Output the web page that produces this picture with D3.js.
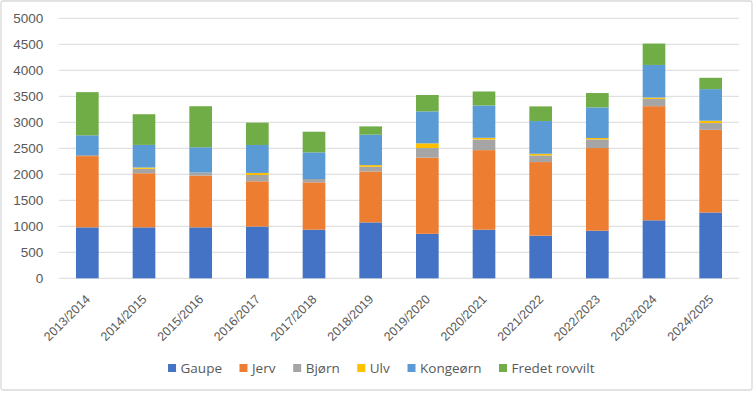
<!DOCTYPE html>
<html>
<head>
<meta charset="utf-8">
<script src="https://cdn.jsdelivr.net/npm/d3@7"></script>
<style>
  html, body { margin: 0; padding: 0; background: #fff; }
  svg { display: block; font-family: 'Open Sans', 'Noto Sans', sans-serif; }
  .tick-text { fill: #595959; }
</style>
</head>
<body>
<div id="chart"></div>
<script>
const seasons = ['2013/2014', '2014/2015', '2015/2016', '2016/2017', '2017/2018', '2018/2019',
  '2019/2020', '2020/2021', '2021/2022', '2022/2023', '2023/2024', '2024/2025'];
const gaupe = [980, 980, 980, 995, 935, 1075, 855, 935, 820, 915, 1115, 1265];
const jerv = [1370, 1040, 995, 870, 910, 980, 1465, 1530, 1415, 1590, 2195, 1590];
const bjorn = [20, 85, 58, 122, 64, 90, 185, 205, 128, 167, 140, 130];
const ulv = [0, 25, 0, 39, 0, 32, 90, 32, 32, 26, 25, 45];
const kongeorn = [380, 435, 487, 538, 513, 584, 615, 622, 629, 589, 628, 608];
const fredet = [830, 590, 789, 429, 397, 160, 315, 269, 282, 276, 411, 218];
const seriesNames = ['Gaupe', 'Jerv', 'Bjørn', 'Ulv', 'Kongeørn', 'Fredet rovvilt'];
const yTicks = [0, 500, 1000, 1500, 2000, 2500, 3000, 3500, 4000, 4500, 5000];

const colors = ['#4472C4', '#ED7D31', '#A5A5A5', '#FFC000', '#5B9BD5', '#70AD47'];
const W = 756, H = 393;
const margin = { top: 18.3, right: 17, bottom: 114.7, left: 59 };
const width = W - margin.left - margin.right,
  height = H - margin.top - margin.bottom;

const allSeries = [gaupe, jerv, bjorn, ulv, kongeorn, fredet];
const rows = seasons.map((s, i) => {
  const row = { season: s };
  seriesNames.forEach((n, j) => { row[n] = allSeries[j][i]; });
  return row;
});

const svg = d3.select('#chart').append('svg')
  .attr('width', W).attr('height', H);

// outer chart border
svg.append('rect')
  .attr('x', 1).attr('y', 1)
  .attr('width', 751).attr('height', 389)
  .attr('rx', 2)
  .attr('fill', '#fff')
  .attr('stroke', '#d9d9d9')
  .attr('stroke-width', 1.3);

const g = svg.append('g')
  .attr('transform', `translate(${margin.left}, ${margin.top})`);

const x = d3.scaleBand().domain(seasons).range([0, width]).paddingInner(0.6).paddingOuter(0.3);
const y = d3.scaleLinear().domain([0, 5000]).range([height, 0]);

// gridlines
g.append('g').attr('class', 'grid')
  .selectAll('line').data(yTicks).join('line')
  .attr('x1', 0).attr('x2', width)
  .attr('y1', d => y(d)).attr('y2', d => y(d))
  .attr('stroke', '#d9d9d9').attr('stroke-width', 1);

// y axis
const yAxis = g.append('g').attr('class', 'y-axis')
  .call(d3.axisLeft(y).tickValues(yTicks).tickSize(0).tickPadding(15.7).tickFormat(d3.format('d')));
yAxis.select('.domain').remove();
yAxis.selectAll('text').attr('class', 'tick-text').style('font-size', '13.5px');

// stacked bars
const stack = d3.stack().keys(seriesNames)(rows);
g.append('g').attr('class', 'bars')
  .selectAll('g').data(stack).join('g')
  .attr('fill', (d, i) => colors[i])
  .selectAll('rect').data(d => d).join('rect')
  .attr('x', d => x(d.data.season))
  .attr('y', d => y(d[1]))
  .attr('width', x.bandwidth())
  .attr('height', d => y(d[0]) - y(d[1]));

// x axis labels
const xAxis = g.append('g').attr('class', 'x-axis')
  .attr('transform', `translate(0, ${height})`)
  .call(d3.axisBottom(x).tickSize(0));
xAxis.select('.domain').remove();
xAxis.selectAll('text')
  .attr('class', 'tick-text')
  .style('font-size', '12.5px')
  .attr('text-anchor', 'end')
  .attr('dy', 0)
  .attr('y', 0)
  .attr('transform', 'translate(3.5, 21.7) rotate(-45)');

// legend
const legend = svg.append('g').attr('class', 'legend')
  .attr('transform', 'translate(0, 368)');
let lx = 0;
const items = legend.selectAll('g').data(seriesNames).join('g');
items.append('rect')
  .attr('y', -4).attr('width', 8).attr('height', 8)
  .attr('fill', (d, i) => colors[i]);
items.append('text')
  .attr('class', 'tick-text')
  .attr('x', 12.5).attr('dy', '0.35em')
  .style('font-size', '13.5px')
  .text(d => d);
items.each(function () {
  const w = this.getBBox().width;
  d3.select(this).attr('transform', `translate(${lx}, 0)`);
  lx += w + 17.5;
});
const totalW = lx - 17.5;
legend.attr('transform', `translate(${(162.7 + 600) / 2 - totalW / 2}, 368)`);
</script>
</body>
</html>
